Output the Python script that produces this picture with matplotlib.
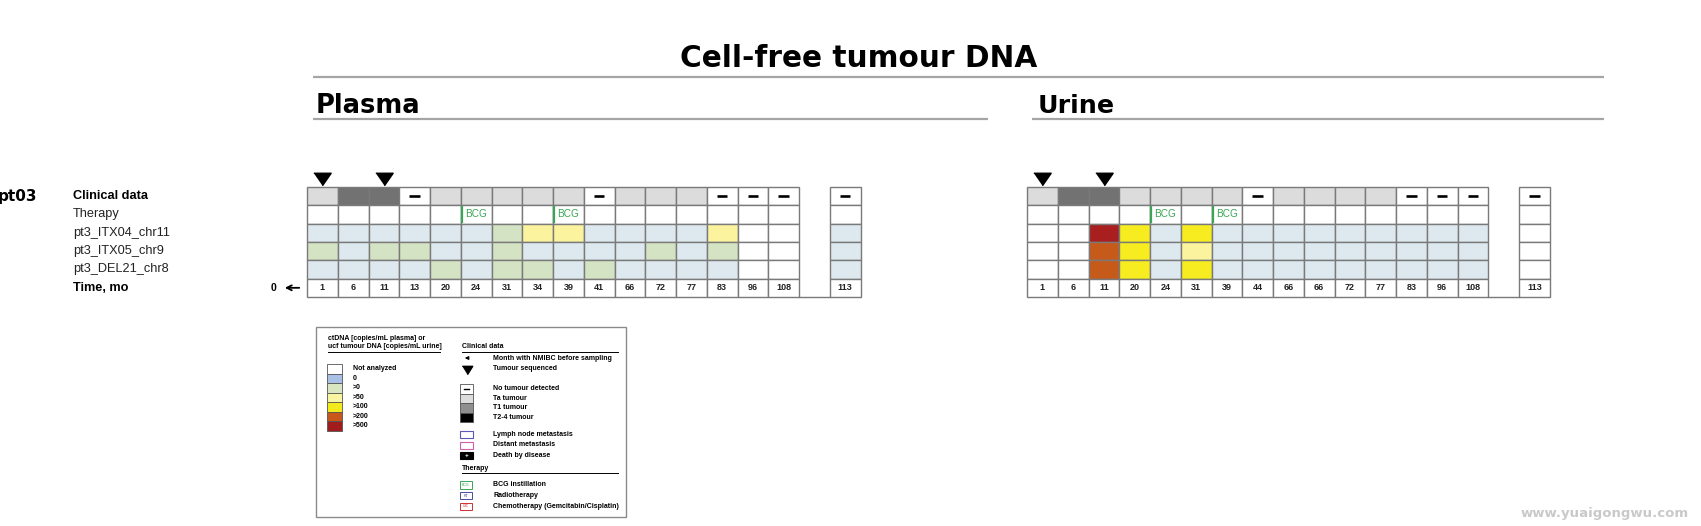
import matplotlib
matplotlib.use("Agg")
import matplotlib.pyplot as plt
from matplotlib.patches import Rectangle

plt.rcParams['font.family'] = ['Liberation Sans', 'DejaVu Sans']

# ---------------- data ----------------
row_labels = ["Clinical data", "Therapy", "pt3_ITX04_chr11", "pt3_ITX05_chr9", "pt3_DEL21_chr8", "Time, mo"]
patient = "pt03"

# levels: -1 not analyzed, 0 zero, 1 >0, 2 >50, 3 >100, 4 >200, 5 >500
plasma_times = [1, 6, 11, 13, 20, 24, 31, 34, 39, 41, 66, 72, 77, 83, 96, 108, 113]
plasma_clinical = ['Ta', 'T1', 'T1', 'none', 'Ta', 'Ta', 'Ta', 'Ta', 'Ta', 'none',
                   'Ta', 'Ta', 'Ta', 'none', 'none', 'none', 'none']
plasma_sequenced = [1, 11]
plasma_bcg = [24, 39]
plasma_ITX04 = [0, 0, 0, 0, 0, 0, 1, 2, 2, 0, 0, 0, 0, 2, -1, -1, 0]
plasma_ITX05 = [1, 0, 1, 1, 0, 0, 1, 0, 0, 0, 0, 1, 0, 1, -1, -1, 0]
plasma_DEL21 = [0, 0, 0, 0, 1, 0, 1, 1, 0, 1, 0, 0, 0, 0, -1, -1, 0]

urine_times = [1, 6, 11, 20, 24, 31, 39, 44, 66, 66, 72, 77, 83, 96, 108, 113]
urine_clinical = ['Ta', 'T1', 'T1', 'Ta', 'Ta', 'Ta', 'Ta', 'none', 'Ta', 'Ta',
                  'Ta', 'Ta', 'none', 'none', 'none', 'none']
urine_sequenced = [1, 11]
urine_bcg = [24, 39]
urine_ITX04 = [-1, -1, 5, 3, 0, 3, 0, 0, 0, 0, 0, 0, 0, 0, 0, -1]
urine_ITX05 = [-1, -1, 4, 3, 0, 2, 0, 0, 0, 0, 0, 0, 0, 0, 0, -1]
urine_DEL21 = [-1, -1, 4, 3, 0, 3, 0, 0, 0, 0, 0, 0, 0, 0, 0, -1]

legend_levels = ["Not analyzed", "0", ">0", ">50", ">100", ">200", ">500"]
legend_clinical = ["No tumour detected", "Ta tumour", "T1 tumour", "T2-4 tumour"]
legend_meta = ["Lymph node metastasis", "Distant metastasis", "Death by disease"]
legend_therapy = ["BCG instillation", "Radiotherapy", "Chemotherapy (Gemcitabin/Cisplatin)"]
legend_therapy_tags = ["BCG", "RT", "G/C"]

# ---------------- styles ----------------
LEVEL_CELL = {-1: 'white', 0: '#dde9ee', 1: '#d4e3c3', 2: '#fbf39e', 3: '#f6ec1f', 4: '#c65a1b', 5: '#a91f1f'}
LEVEL_SWATCH = ['white', '#a9c1e5', '#d9e6c1', '#f8f4a0', '#f3ea1b', '#c8571c', '#a11c1c']
CLIN = {'Ta': '#dcdcdc', 'T1': '#727272', 'T2': '#000000', 'none': 'white'}
GRID = '#7a7a7a'
GREEN = '#3aa655'
W, H = 1701, 526

fig = plt.figure(figsize=(W / 100, H / 100), dpi=100)
bg = fig.add_axes([0, 0, 1, 1])
bg.set_xlim(0, W)
bg.set_ylim(H, 0)
bg.axis('off')

# headings
HEAD = ['DejaVu Sans']
bg.text(859, 67, "Cell-free tumour DNA", fontsize=21.3, fontweight='bold', ha='center', va='baseline', family=HEAD)
bg.plot([313, 1604], [77, 77], color='#a5a5a5', lw=1.6, solid_capstyle='butt')
bg.text(316, 113, "Plasma", fontsize=18.5, fontweight='bold', ha='left', va='baseline', family=HEAD)
bg.plot([313, 988], [119, 119], color='#a5a5a5', lw=1.6, solid_capstyle='butt')
bg.text(1038, 113, "Urine", fontsize=18.3, fontweight='bold', ha='left', va='baseline', family=HEAD)
bg.plot([1032, 1604], [119, 119], color='#a5a5a5', lw=1.6, solid_capstyle='butt')

# row labels
row_y0, row_h = 187, 18.33
bg.text(37, row_y0 + 0.5 * row_h, patient, fontsize=11, fontweight='bold', ha='right', va='center', family=HEAD)
for r, lab in enumerate(row_labels):
    bold = r in (0, 5)
    bg.text(73, row_y0 + (r + 0.5) * row_h, lab, fontsize=9.2,
            fontweight='bold' if bold else 'normal', ha='left', va='center',
            color='black' if bold else '#222222')
bg.text(273, row_y0 + 5.5 * row_h, "0", fontsize=7.5, fontweight='bold', ha='center', va='center')
bg.annotate('', xy=(282, row_y0 + 5.5 * row_h), xytext=(302, row_y0 + 5.5 * row_h),
            arrowprops=dict(arrowstyle='->', lw=1.3, color='black', mutation_scale=9))


def draw_grid(left_px, times, clinical, seq, bcg, markers):
    ncols = len(times) + 1  # one gap column before the last sample
    cw = 30.75
    ax = fig.add_axes([left_px / W, 1 - (row_y0 + 6 * row_h) / H, ncols * cw / W, 6 * row_h / H])
    ax.set_xlim(0, ncols)
    ax.set_ylim(6, 0)
    ax.axis('off')
    gap = len(times) - 1
    for i, t in enumerate(times):
        x = i if i < gap else i + 1
        # clinical row
        ax.add_patch(Rectangle((x, 0), 1, 1, facecolor=CLIN[clinical[i]], edgecolor=GRID, lw=1.0, clip_on=False))
        if clinical[i] == 'none':
            ax.plot([x + 0.33, x + 0.67], [0.5, 0.5], color='black', lw=1.9, solid_capstyle='butt')
        # therapy row
        ax.add_patch(Rectangle((x, 1), 1, 1, facecolor='white', edgecolor=GRID, lw=1.0, clip_on=False))
        # marker rows
        for r, vals in enumerate(markers):
            ax.add_patch(Rectangle((x, 2 + r), 1, 1, facecolor=LEVEL_CELL[vals[i]], edgecolor=GRID, lw=1.0, clip_on=False))
        # time row
        ax.add_patch(Rectangle((x, 5), 1, 1, facecolor='white', edgecolor=GRID, lw=1.0, clip_on=False))
        ax.text(x + 0.5, 5.5, str(t), fontsize=6.5, fontweight='bold', ha='center', va='center', color='#222222')
        if t in seq and i < 3:
            ax.plot(x + 0.5, -0.42, marker=[(-1, 0.72), (1, 0.72), (0, -0.72)], ms=12.5,
                    color='black', clip_on=False, lw=0)
    # BCG markers
    for b in bcg:
        i = times.index(b)
        x = i if i < gap else i + 1
        ax.plot([x + 0.04, x + 0.04], [1.05, 1.95], color=GREEN, lw=1.6, solid_capstyle='butt')
        ax.text(x + 0.14, 1.5, "BCG", fontsize=7.2, color=GREEN, ha='left', va='center')
    # bottom line under the gap column
    ax.plot([gap, gap + 1], [6, 6], color=GRID, lw=1.0, clip_on=False)
    return ax


draw_grid(307, plasma_times, plasma_clinical, plasma_sequenced, plasma_bcg,
          [plasma_ITX04, plasma_ITX05, plasma_DEL21])
draw_grid(1027, urine_times, urine_clinical, urine_sequenced, urine_bcg,
          [urine_ITX04, urine_ITX05, urine_DEL21])

# ---------------- legend box ----------------
bg.add_patch(Rectangle((316, 327), 310, 190, facecolor='white', edgecolor='#8a8a8a', lw=1.0))
lf = dict(fontsize=5, fontweight='bold', va='center', ha='left')
bg.text(328, 338, "ctDNA [copies/mL plasma] or", **lf)
bg.text(328, 347, "ucf tumour DNA [copies/mL urine]", **lf)
bg.plot([328, 440], [352, 352], color='black', lw=0.7)
sw_y = [364, 373.5, 383, 392.5, 402, 411.5, 421]
for k, lab in enumerate(legend_levels):
    bg.add_patch(Rectangle((327, sw_y[k]), 15, 9.5, facecolor=LEVEL_SWATCH[k], edgecolor='#555555', lw=0.6))
    bg.text(353, sw_y[k] + 4.75, lab, **lf)

bg.text(462, 347, "Clinical data", **lf)
bg.plot([462, 618], [352, 352], color='black', lw=0.7)
bg.annotate('', xy=(462, 358), xytext=(471, 358),
            arrowprops=dict(arrowstyle='-|>', lw=0.8, color='black', mutation_scale=5))
bg.text(493, 358, "Month with NMIBC before sampling", **lf)
bg.plot(466.5, 369.5, marker=[(-1, 0.8), (1, 0.8), (0, -0.8)], ms=7.5, color='black', lw=0)
bg.text(493, 368, "Tumour sequenced", **lf)
clin_cols = ['white', '#dcdcdc', '#8f8f8f', '#000000']
for k, lab in enumerate(legend_clinical):
    y = 384 + k * 9.5
    bg.add_patch(Rectangle((460, y), 13, 9.5, facecolor=clin_cols[k], edgecolor='#555555', lw=0.6))
    if k == 0:
        bg.plot([464, 469], [y + 4.75, y + 4.75], color='black', lw=1.0)
    bg.text(493, y + 4.75, lab, **lf)
meta_edges = ['#5a5ab4', '#d060a8', 'black']
meta_faces = ['white', 'white', 'black']
for k, lab in enumerate(legend_meta):
    y = 431 + k * 10.5
    bg.add_patch(Rectangle((460, y), 13, 7, facecolor=meta_faces[k], edgecolor=meta_edges[k], lw=0.8))
    if k == 2:
        bg.text(466.5, y + 3.8, "+", fontsize=4.5, color='white', ha='center', va='center', fontweight='bold')
    bg.text(493, y + 3.5, lab, **lf)
bg.text(462, 469, "Therapy", **lf)
bg.plot([462, 618], [473, 473], color='black', lw=0.7)
ther_cols = [GREEN, '#4a4aa0', '#d03030']
for k, lab in enumerate(legend_therapy):
    y = 481 + k * 10.8
    bg.add_patch(Rectangle((460, y), 12, 7.5, facecolor='white', edgecolor=ther_cols[k], lw=0.7))
    bg.text(466, y + 3.75, legend_therapy_tags[k], fontsize=2.6, color=ther_cols[k], ha='center', va='center')
    bg.text(493, y + 3.75, lab, **lf)

# watermark
bg.text(1521, 514, "www.yuaigongwu.com", fontsize=9.5, fontweight='bold', color='#c9c9c9',
        ha='left', va='center', family='DejaVu Sans')

fig.savefig("out.png", dpi=100)
